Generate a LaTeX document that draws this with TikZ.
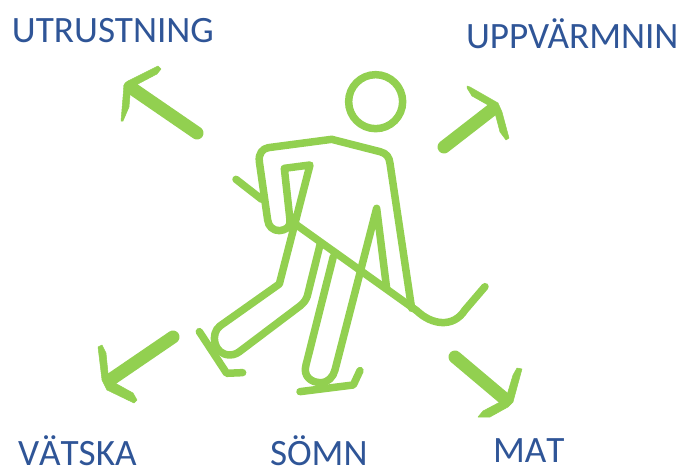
\documentclass[tikz,border=0pt]{standalone}
\usepackage{fontspec}
\setmainfont{Carlito}
\definecolor{lime}{HTML}{92D050}
\definecolor{lab}{HTML}{2F5597}
\tikzset{
  line/.style={draw=lime,line width=7.5pt,line cap=round,line join=round},
  shaft/.style={draw=lime,line width=13pt,line cap=round},
  barbs/.style={fill=lime,draw=lime,line width=0.5pt,line join=round},
  lbl/.style={text=lab,font=\fontsize{37.2}{40}\selectfont,anchor=base west,inner sep=0pt,outer sep=0pt}
}
\begin{document}
\begin{tikzpicture}[x=1pt,y=-1pt]
\useasboundingbox (0,0) rectangle (683,466);
\clip (0,0) rectangle (683,466);
\node[lbl] (utr) at (12,42) {UTRUSTNING};
\node[lbl] (upp) at (466,48) {UPPVÄRMNIN};
\node[lbl] (vat) at (18,465.5) {\addfontfeatures{Kerning=Off}VÄTSKA};
\node[lbl] (som) at (270,465.5) {SÖMN};
\node[lbl] (mat) at (493,462) {\addfontfeatures{Kerning=Off}MAT};
% figure
\begin{scope}[shift={(190,60)},x=0.3333pt,y=-0.3333pt]
\node[circle,draw=lime,line width=7.5pt,minimum size=54pt,inner sep=0pt] (hd) at (557,125) {};
% torso and arm
\draw[line] (300,480) .. controls (302,505) and (285,510) .. (268,512) .. controls (250,512) and (235,500) .. (233,480)
  -- (208,305) .. controls (205,280) and (218,266) .. (235,263) -- (425,238) -- (570,275) .. controls (590,280) and (598,292) .. (600,310) -- (665,745);
% hand and back leg
\draw[line] (300,480) -- (283,325) -- (360,315) -- (268,672) -- (90,798) .. controls (60,820) and (70,885) .. (120,885) .. controls (135,885) and (145,878) .. (155,870) -- (330,738) .. controls (342,728) and (348,720) .. (352,708) -- (390,555);
% front leg
\draw[line] (430,590) -- (348,915) .. controls (338,950) and (365,968) .. (392,968) .. controls (415,968) and (430,950) .. (435,930) -- (560,445) -- (590,685);
% stick
\draw[line] (138,358) -- (215,418);
\draw[line] (320,495) -- (680,752) .. controls (725,795) and (790,805) .. (825,750) -- (885,680);
% skates
\draw[line] (28,815) -- (110,940) -- (158,938);
\draw[line] (330,995) -- (490,975) -- (510,932);
\end{scope}
% arrows
\coordinate (a1s) at (197,133); \coordinate (a1e) at (130,87);
\coordinate (a2s) at (444,147); \coordinate (a2e) at (493,109);
\coordinate (a3s) at (173,337); \coordinate (a3e) at (110,380);
\coordinate (a4s) at (455,357); \coordinate (a4e) at (506,400);
\draw[shaft] (a1s) -- (a1e);
\draw[shaft] (a2s) -- (a2e);
\draw[shaft] (a3s) -- (a3e);
\draw[shaft] (a4s) -- (a4e);
\path[barbs] (158,66) -- (161,69) -- (157,74) -- (138,84) -- (130,95) -- (129,107) -- (123,121) -- (121,121) -- (124,85) -- (128,81) -- cycle;
\path[barbs] (467,86) -- (470,87) -- (498,103) -- (502,112) -- (509,138) -- (506,140) -- (500,132) -- (495,113) -- (488,105) -- (472,96) -- (467,88) -- cycle;
\path[barbs] (98,347) -- (102,345) -- (106,353) -- (108,373) -- (115,383) -- (133,393) -- (137,400) -- (134,403) -- (107,390) -- (102,380) -- cycle;
\path[barbs] (522,369) -- (517,368) -- (513,375) -- (507,395) -- (500,402) -- (483,411) -- (478,417) -- (490,417) -- (508,407) -- (513,402) -- cycle;
\end{tikzpicture}
\end{document}
